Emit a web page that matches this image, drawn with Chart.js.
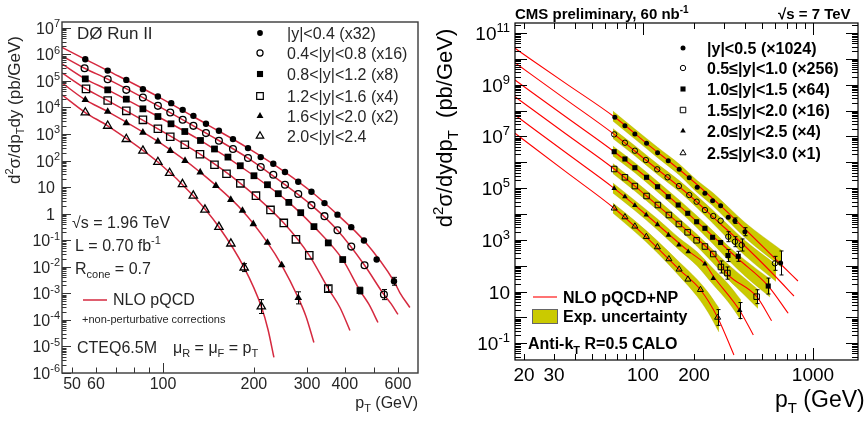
<!DOCTYPE html>
<html><head><meta charset="utf-8">
<script src="https://cdn.jsdelivr.net/npm/chart.js@4.4.1/dist/chart.umd.min.js"></script>
<style>
html,body{margin:0;padding:0;background:#fff;overflow:hidden}
#wrap{position:relative;width:864px;height:421px;overflow:hidden;background:#fff}
#c1{position:absolute;left:0;top:0}
#c2{position:absolute;left:430px;top:0}
</style></head>
<body><div id="wrap"><canvas id="c1" width="430" height="421"></canvas><canvas id="c2" width="434" height="421"></canvas></div>
<script>
// ================= LEFT PANEL: DØ Run II =================
const d0Legend = ['|y|<0.4 (x32)', '0.4<|y|<0.8 (x16)', '0.8<|y|<1.2 (x8)', '1.2<|y|<1.6 (x4)', '1.6<|y|<2.0 (x2)', '2.0<|y|<2.4'];
const d0YTickExps = [7, 6, 5, 4, 3, 2, 1, 0, -1, -2, -3, -4, -5, -6];
const d0XTickLabels = [50, 60, 100, 200, 300, 400, 600];

// measured points (pT in GeV, cross section in pb/GeV, scaled)
const d0Pt1 = [55.3, 65.6, 75.6, 85.8, 96.2, 106.5, 116.2, 126.1, 138.8, 153.2, 170.5, 191.2, 210.7, 231.9, 253.5, 280.5, 310.2, 342.6, 378.3, 420.2, 463, 510, 582];
const d0Xs1 = [6.5e5, 2.44e5, 1.09e5, 4.88e4, 2.57e4, 1.45e4, 8.1e3, 4.83e3, 2.42e3, 1.32e3, 643, 295, 135, 75.8, 37, 16, 6.7, 2.5, 0.92, 0.31, 0.097, 0.0187, 0.00285];
const d0Pt2 = [55.0, 65.6, 75.6, 85.8, 96.2, 105.7, 116.2, 126.1, 138.8, 153.2, 170.5, 191.2, 210.7, 231.9, 253.5, 280.5, 310.2, 342.6, 378.3, 420.2, 465, 539];
const d0Xs2 = [3.0e5, 1.16e5, 4.59e4, 2.36e4, 1.15e4, 6.43e3, 3.42e3, 2.03e3, 1.08e3, 555, 271, 124, 57, 29.3, 12.3, 5.5, 2.09, 0.805, 0.236, 0.0575, 0.0114, 9.0e-4];
const d0Pt3 = [55.3, 65.6, 75.6, 85.8, 96.2, 106.3, 118.1, 133.1, 148.1, 164.1, 180.3, 200.1, 221.8, 240.9, 261, 285.8, 316.2, 352.7, 393.7, 449];
const d0Xs3 = [1.19e5, 4.59e4, 2.05e4, 8.86e3, 4.55e3, 2.42e3, 1.24e3, 570, 273, 135, 63.8, 26.8, 12.3, 5.65, 2.66, 1.09, 0.325, 0.0792, 0.0187, 1.27e-3];
const d0Pt4 = [55.6, 65.6, 75.6, 85.8, 96.2, 105.7, 118.1, 132.6, 148.1, 162.3, 180.4, 203.2, 227, 251.2, 275.6, 305.1, 352.7];
const d0Xs4 = [5.0e4, 1.82e4, 7.45e3, 3.42e3, 1.57e3, 785, 393, 173, 69.5, 31.9, 13.9, 4.75, 1.38, 0.447, 0.108, 0.027, 1.51e-3];
const d0Pt5 = [55.3, 65.6, 75.6, 85.8, 96.2, 105.7, 118.3, 132.8, 149.7, 167.7, 183.3, 199.1, 221.8, 247.2, 280.5];
const d0Xs5 = [1.93e4, 7.01e3, 2.57e3, 1.14e3, 522, 234, 98.3, 36.3, 11.3, 3.36, 1.3, 0.41, 0.0813, 0.0116, 6.8e-4];
const d0Pt6 = [55.3, 65.6, 75.6, 85.8, 96.2, 105.2, 116, 126, 137.7, 153.2, 167.8, 185.7, 211.6];
const d0Xs6 = [6.43e3, 2.03e3, 643, 234, 87.9, 33.9, 12.9, 4.75, 1.41, 0.316, 0.0745, 9.3e-3, 3.19e-4];
// visible error bars (pT, low edge, high edge)
const d0ErrPt = [582, 539, 449, 352.7, 280.5, 185.7, 211.6];
const d0ErrLo = [2.02e-3, 5.8e-4, 9.5e-4, 1.15e-3, 4.0e-4, 6.6e-3, 1.74e-4];
const d0ErrHi = [4.0e-3, 1.39e-3, 1.7e-3, 1.95e-3, 1.14e-3, 1.31e-2, 5.8e-4];

// NLO pQCD curves (knots)
const d0NloPt1 = [46.3, 55.3, 65.6, 96.2, 138.8, 191.2, 253.5, 310.2, 378.3, 463, 582, 609, 657];
const d0NloXs1 = [1.82e6, 6.5e5, 2.44e5, 2.57e4, 2.42e3, 295, 37, 6.7, 0.92, 0.097, 2.85e-3, 1.05e-3, 2.92e-4];
const d0NloPt2 = [46.3, 55, 65.6, 96.2, 138.8, 191.2, 253.5, 310.2, 378.3, 465, 539, 569, 600];
const d0NloXs2 = [8.7e5, 3.0e5, 1.16e5, 1.15e4, 1.08e3, 124, 12.3, 2.09, 0.236, 0.0114, 9.0e-4, 4.1e-4, 1.6e-4];
const d0NloPt3 = [46.3, 55.3, 65.6, 96.2, 133.1, 200.1, 261, 316.2, 393.7, 449, 481, 515];
const d0NloXs3 = [4.36e5, 1.19e5, 4.59e4, 4.55e3, 570, 26.8, 2.66, 0.325, 0.0187, 1.27e-3, 3.8e-4, 8.0e-5];
const d0NloPt4 = [46.3, 55.6, 65.6, 96.2, 132.6, 180.4, 251.2, 305.1, 352.7, 385.5, 416];
const d0NloXs4 = [2.0e5, 5.0e4, 1.82e4, 1.57e3, 173, 13.9, 0.447, 0.027, 1.51e-3, 2.92e-4, 4.0e-5];
const d0NloPt5 = [46.3, 55.3, 65.6, 96.2, 132.8, 183.3, 221.8, 247.2, 280.5, 297.6, 316];
const d0NloXs5 = [8.4e4, 1.93e4, 7.01e3, 522, 36.3, 1.3, 0.0813, 0.0116, 6.8e-4, 1.34e-4, 1.41e-5];
const d0NloPt6 = [46.3, 55.3, 65.6, 96.2, 126, 153.2, 185.7, 211.6, 222.7, 233];
const d0NloXs6 = [2.98e4, 6.43e3, 2.03e3, 87.9, 4.75, 0.316, 9.3e-3, 3.19e-4, 4.36e-5, 3.86e-6];

// ================= RIGHT PANEL: CMS preliminary =================
const cmsLegend = ['|y|<0.5 (\u00d71024)', '0.5\u2264|y|<1.0 (\u00d7256)', '1.0\u2264|y|<1.5 (\u00d764)', '1.5\u2264|y|<2.0 (\u00d716)', '2.0\u2264|y|<2.5 (\u00d74)', '2.5\u2264|y|<3.0 (\u00d71)'];
const cmsYTickExps = [11, 9, 7, 5, 3, 1, -1];
const cmsXTickLabels = [20, 30, 100, 200, 1000];

const cmsPt1 = [68.4, 78.4, 89.7, 105.1, 122, 140.9, 163.5, 187.3, 208.6, 231.6, 257, 286.5, 317.6, 347.7, 398, 645.7];
const cmsXs1 = [5.48e7, 2.59e7, 1.24e7, 5.41e6, 2.34e6, 1.15e6, 5.33e5, 2.52e5, 1.07e5, 6.3e4, 3.26e4, 2.09e4, 7.4e3, 5.48e3, 2.06e3, 127];
const cmsPt2 = [67.8, 78.4, 89.7, 104.1, 121.4, 139.7, 162.8, 187.3, 207, 231.6, 259.2, 286.5, 317.6, 347.7, 380.7, 597.6];
const cmsXs2 = [1.2e7, 5.7e6, 2.8e6, 1.22e6, 5.33e5, 2.62e5, 1.2e5, 5.4e4, 2.98e4, 1.42e4, 8.3e3, 5.48e3, 1.32e3, 845, 630, 123];
const cmsPt3 = [67.8, 78.4, 89.7, 105.1, 122, 140.9, 161.3, 183.5, 207, 231.6, 257, 286.5, 316.4, 363.6, 545.8];
const cmsXs3 = [2.56e6, 1.34e6, 6.15e5, 2.62e5, 1.13e5, 4.65e4, 2.22e4, 1.06e4, 5.0e3, 2.79e3, 1.25e3, 787, 247, 230, 16.3];
const cmsPt4 = [67.8, 78.4, 89.7, 105.1, 122.5, 142.2, 162.8, 183.2, 207, 231.6, 259.2, 287.6, 314, 466.6];
const cmsXs4 = [5.48e5, 2.62e5, 1.2e5, 4.95e4, 2.22e4, 9.1e3, 4.08e3, 1.95e3, 957, 551, 282, 88.7, 52, 6.3];
const cmsPt5 = [67.8, 78.4, 89.7, 104.6, 121.7, 141.3, 162.8, 184.7, 231.6, 259.2, 370.6];
const cmsXs5 = [9.8e4, 4.65e4, 2.12e4, 9.1e3, 3.9e3, 1.53e3, 630, 347, 116, 31.8, 1.84];
const cmsPt6 = [67.8, 78.4, 89.7, 104.8, 121.7, 142.2, 163.3, 184, 217.9, 275.1];
const cmsXs6 = [1.66e4, 7.6e3, 3.33e3, 1.32e3, 526, 181, 72.3, 29.6, 11.7, 0.99];
// visible error bars (pT, low edge, high edge)
const cmsErrPt = [645.7, 398, 347.7, 597.6, 380.7, 347.7, 317.6, 545.8, 363.6, 316.4, 466.6, 314, 287.6, 370.6, 275.1];
const cmsErrLo = [43.6, 1.44e3, 4.3e3, 66, 368, 542, 846, 8.0, 147, 144, 3.4, 30, 52, 0.9, 0.49];
const cmsErrHi = [370, 2.94e3, 7.0e3, 229, 1.08e3, 1.32e3, 2.06e3, 33, 359, 422, 11.7, 89, 152, 3.75, 2.0];

// NLO pQCD+NP lines
const cmsNloPt1 = [17.7, 35, 68.4, 105, 187, 286, 398, 645, 816];
const cmsNloXs1 = [2.56e10, 1.15e9, 5.48e7, 5.41e6, 2.52e5, 2.09e4, 2.62e3, 116, 25.5];
const cmsNloPt2 = [17.7, 35, 67.8, 104, 187, 286, 381, 598, 773];
const cmsNloXs2 = [7.1e9, 2.77e8, 1.2e7, 1.22e6, 5.4e4, 4.08e3, 751, 39.8, 6.7];
const cmsNloPt3 = [17.7, 35, 67.8, 105, 183.5, 286, 364, 546, 715];
const cmsNloXs3 = [1.52e9, 5.89e7, 2.56e6, 2.62e5, 1.06e4, 751, 181, 16.3, 1.44];
const cmsNloPt4 = [17.7, 35, 67.8, 105, 187, 259, 314, 467, 571];
const cmsNloXs4 = [3.43e8, 1.29e7, 5.48e5, 4.95e4, 1.95e3, 282, 47.5, 6.3, 0.743];
const cmsNloPt5 = [17.7, 35, 67.8, 105, 187, 232, 259, 371, 446];
const cmsNloXs5 = [6.73e7, 2.43e6, 9.8e4, 9.1e3, 347, 116, 39.8, 1.84, 0.207];
const cmsNloPt6 = [17.7, 35, 67.8, 104, 163, 218, 275, 343];
const cmsNloXs6 = [1.32e7, 4.43e5, 1.66e4, 1.32e3, 72.3, 11.7, 0.99, 0.035];

// experimental uncertainty bands (upper / lower edges)
const cmsBandPt1 = [66.6, 89.7, 122, 163.5, 208.6, 257, 317.6, 398, 657];
const cmsBandHi1 = [9.6e7, 1.93e7, 3.79e6, 8.55e5, 1.97e5, 6.76e4, 1.86e4, 4.68e3, 385];
const cmsBandLo1 = [3.94e7, 7.93e6, 1.5e6, 3.21e5, 6.76e4, 2.12e4, 5.34e3, 1.23e3, 84.9];
const cmsBandPt2 = [66.6, 89.7, 122, 163.5, 208.6, 257, 317.6, 398, 606];
const cmsBandHi2 = [2.02e7, 4.37e6, 8.48e5, 1.97e5, 4.95e4, 1.42e4, 3.74e3, 939, 111];
const cmsBandLo2 = [8.3e6, 1.79e6, 3.36e5, 7.38e4, 1.7e4, 4.47e3, 1.07e3, 247, 24.4];
const cmsBandPt3 = [66.6, 89.7, 122, 163.5, 208.6, 257, 317.6, 398, 558];
const cmsBandHi3 = [4.26e6, 9.6e5, 1.8e5, 3.47e4, 8.34e3, 2.29e3, 577, 166, 30.5];
const cmsBandLo3 = [1.75e6, 3.94e5, 7.13e4, 1.3e4, 2.86e3, 719, 166, 39.8, 6.13];
const cmsBandPt4 = [66.6, 89.7, 122, 163.5, 208.6, 257, 317.6, 398, 475];
const cmsBandHi4 = [8.95e5, 1.88e5, 3.53e4, 6.67e3, 1.6e3, 422, 111, 31.8, 12];
const cmsBandLo4 = [3.67e5, 7.73e4, 1.4e4, 2.5e3, 551, 132, 29.2, 7.0, 2.2];
const cmsBandPt5 = [66.6, 89.7, 122, 163.5, 208.6, 257, 317.6, 377];
const cmsBandHi5 = [1.58e5, 3.32e4, 6.38e3, 1.17e3, 337, 81, 19.5, 4.7];
const cmsBandLo5 = [6.47e4, 1.36e4, 2.4e3, 403, 97, 19.5, 3.93, 0.79];
const cmsBandPt6 = [66.6, 89.7, 122, 163.5, 208.6, 241, 280];
const cmsBandHi6 = [2.65e4, 5.43e3, 899, 139, 29.2, 9.57, 2.3];
const cmsBandLo6 = [1.09e4, 2.04e3, 309, 39.8, 6.41, 1.61, 0.272];

// ================= helpers =================
const FAM = '"Liberation Sans", Arial, Helvetica, sans-serif';
const fnt = (sz, b) => (b ? 'bold ' : '') + sz + 'px ' + FAM;
const seg = (t, sz, o = {}) => ({ t, f: fnt(sz, o.b), dy: o.dy || 0 });
function drawRich(ctx, x, y, segs, align) {
  let w = 0;
  for (const s of segs) { ctx.font = s.f; w += ctx.measureText(s.t).width; }
  let cx = align === 'right' ? x - w : align === 'center' ? x - w / 2 : x;
  ctx.textAlign = 'left'; ctx.textBaseline = 'alphabetic';
  for (const s of segs) { ctx.font = s.f; ctx.fillText(s.t, cx, y + s.dy); cx += ctx.measureText(s.t).width; }
  return w;
}
function powSegs(e, sz, ssz, b) {
  if (e === 0) return [seg('1', sz, { b })];
  if (e === 1) return [seg('10', sz, { b })];
  return [seg('10', sz, { b }), seg(String(e), ssz, { b, dy: -sz * 0.42 })];
}
function logTicks(min, max) {
  const out = [];
  for (let d = Math.floor(Math.log10(min)) - 1; d <= Math.ceil(Math.log10(max)); d++)
    for (let m = 1; m <= 9; m++) {
      const v = m * Math.pow(10, d);
      if (v >= min * 0.9999 && v <= max * 1.0001) out.push({ v, major: m === 1 });
    }
  return out;
}
function marker(ctx, style, x, y, r, filled, lw) {
  ctx.beginPath();
  if (style === 'circle') ctx.arc(x, y, r, 0, Math.PI * 2);
  else if (style === 'rect') { const s = r / Math.SQRT2; ctx.rect(x - s, y - s, 2 * s, 2 * s); }
  else {
    ctx.moveTo(x, y - r);
    ctx.lineTo(x + r * Math.sin(2 * Math.PI / 3), y - r * Math.cos(2 * Math.PI / 3));
    ctx.lineTo(x + r * Math.sin(4 * Math.PI / 3), y - r * Math.cos(4 * Math.PI / 3));
    ctx.closePath();
  }
  if (filled) { ctx.fillStyle = '#000'; ctx.fill(); }
  else { ctx.lineWidth = lw; ctx.strokeStyle = '#000'; ctx.stroke(); }
}
function errorBars(ctx, xs, ys, pt, lo, hi, cap, color, lw) {
  ctx.save(); ctx.strokeStyle = color; ctx.lineWidth = lw;
  for (let i = 0; i < pt.length; i++) {
    const x = Math.round(xs.getPixelForValue(pt[i])) + 0.5;
    const y1 = ys.getPixelForValue(lo[i]), y2 = ys.getPixelForValue(hi[i]);
    ctx.beginPath(); ctx.moveTo(x, y1); ctx.lineTo(x, y2);
    ctx.moveTo(x - cap, y1); ctx.lineTo(x + cap, y1);
    ctx.moveTo(x - cap, y2); ctx.lineTo(x + cap, y2); ctx.stroke();
  }
  ctx.restore();
}
const pts = (px, vy) => px.map((p, i) => ({ x: p, y: vy[i] }));
const hiddenAxis = (min, max) => ({
  type: 'logarithmic', min, max, bounds: 'data', display: true,
  ticks: { display: false }, grid: { display: false, drawTicks: false },
  border: { display: false }, title: { display: false }
});

// ================= D0 chart =================
const styles = ['circle', 'circle', 'rect', 'rect', 'triangle', 'triangle'];
const filledArr = [true, false, true, false, true, false];
const d0Rad = [3.2, 3.4, 4.8, 5.2, 4.4, 4.8];
const d0DataPt = [d0Pt1, d0Pt2, d0Pt3, d0Pt4, d0Pt5, d0Pt6];
const d0DataXs = [d0Xs1, d0Xs2, d0Xs3, d0Xs4, d0Xs5, d0Xs6];
const d0CurvPt = [d0NloPt1, d0NloPt2, d0NloPt3, d0NloPt4, d0NloPt5, d0NloPt6];
const d0CurvXs = [d0NloXs1, d0NloXs2, d0NloXs3, d0NloXs4, d0NloXs5, d0NloXs6];
const D0RED = '#d5293f';
const d0Sets = [];
for (let i = 0; i < 6; i++) {
  d0Sets.push({
    label: d0Legend[i], data: pts(d0DataPt[i], d0DataXs[i]), showLine: false, order: 1,
    pointStyle: styles[i], pointRadius: d0Rad[i], pointHoverRadius: d0Rad[i],
    pointBackgroundColor: filledArr[i] ? '#000' : 'rgba(255,255,255,0)', pointBorderColor: '#000',
    pointBorderWidth: filledArr[i] ? 0 : 1.3
  });
}
for (let i = 0; i < 6; i++) {
  d0Sets.push({
    label: 'NLO pQCD ' + (i + 1), data: pts(d0CurvPt[i], d0CurvXs[i]), showLine: true, order: 2,
    borderColor: D0RED, borderWidth: 1.5, pointRadius: 0, fill: false, cubicInterpolationMode: 'monotone'
  });
}
const d0Deco = {
  id: 'd0Deco',
  afterDatasetsDraw(chart) {
    errorBars(chart.ctx, chart.scales.x, chart.scales.y, d0ErrPt, d0ErrLo, d0ErrHi, 2.5, '#000', 1);
  },
  afterDraw(chart) {
    const ctx = chart.ctx, a = chart.chartArea, xs = chart.scales.x, ys = chart.scales.y;
    const ink = '#262626';
    ctx.save();
    ctx.strokeStyle = '#333'; ctx.lineWidth = 1;
    for (const t of logTicks(ys.min, ys.max)) {
      const py = Math.round(ys.getPixelForValue(t.v)) + 0.5;
      ctx.beginPath(); ctx.moveTo(a.left, py); ctx.lineTo(a.left + (t.major ? 9 : 4.5), py); ctx.stroke();
    }
    for (const t of logTicks(xs.min, xs.max)) {
      const px = Math.round(xs.getPixelForValue(t.v)) + 0.5;
      ctx.beginPath(); ctx.moveTo(px, a.bottom); ctx.lineTo(px, a.bottom - (t.major ? 10 : 5.5)); ctx.stroke();
    }
    ctx.lineWidth = 1.4; ctx.strokeStyle = '#3a3a3a';
    ctx.strokeRect(a.left, a.top, a.right - a.left, a.bottom - a.top);
    ctx.fillStyle = ink;
    for (const e of d0YTickExps) {
      const py = ys.getPixelForValue(Math.pow(10, e));
      const right = (e === 0 || e === 1) ? a.left - 7 : a.left - 2;
      drawRich(ctx, right, py + 6, powSegs(e, 16, 11), 'right');
    }
    for (const v of d0XTickLabels) drawRich(ctx, xs.getPixelForValue(v), 389, [seg(String(v), 16)], 'center');
    drawRich(ctx, a.right, 408, [seg('p', 16), seg('T', 11, { dy: 4 }), seg(' (GeV)', 16)], 'right');
    // y title
    ctx.save(); ctx.translate(20, 110); ctx.rotate(-Math.PI / 2);
    drawRich(ctx, 0, 0, [seg('d', 17), seg('2', 11, { dy: -7 }), seg('\u03c3/dp', 17), seg('T', 11, { dy: 4 }), seg('dy (pb/GeV)', 17)], 'center');
    ctx.restore();
    drawRich(ctx, 77, 39, [seg('D\u00d8 Run II', 17)], 'left');
    // legend
    const rows = [33, 53, 74, 96, 116, 136];
    for (let i = 0; i < 6; i++) {
      marker(ctx, styles[i], 260, rows[i], d0Rad[i] * 0.9, filledArr[i], 1.2);
      ctx.fillStyle = ink;
      drawRich(ctx, 287, rows[i] + 6, [seg(d0Legend[i], 16)], 'left');
    }
    drawRich(ctx, 72, 228, [seg('\u221as = 1.96 TeV', 16)], 'left');
    drawRich(ctx, 75, 251, [seg('L = 0.70 fb', 16), seg('-1', 11, { dy: -7 })], 'left');
    drawRich(ctx, 75, 274, [seg('R', 16), seg('cone', 11, { dy: 4 }), seg(' = 0.7', 16)], 'left');
    ctx.strokeStyle = D0RED; ctx.lineWidth = 1.5;
    ctx.beginPath(); ctx.moveTo(83, 300); ctx.lineTo(107, 300); ctx.stroke();
    drawRich(ctx, 113, 305, [seg('NLO pQCD', 16)], 'left');
    drawRich(ctx, 82, 323, [seg('+non-perturbative corrections', 11)], 'left');
    drawRich(ctx, 77, 353, [seg('CTEQ6.5M', 16)], 'left');
    drawRich(ctx, 173, 353, [seg('\u03bc', 16), seg('R', 11, { dy: 4 }), seg(' = \u03bc', 16), seg('F', 11, { dy: 4 }), seg(' = p', 16), seg('T', 11, { dy: 4 })], 'left');
    ctx.restore();
  }
};
new Chart(document.getElementById('c1'), {
  type: 'scatter',
  data: { datasets: d0Sets },
  options: {
    responsive: false, animation: false, devicePixelRatio: 1,
    layout: { padding: { left: 62, top: 22, right: 12, bottom: 48 } },
    plugins: { legend: { display: false }, tooltip: { enabled: false } },
    scales: { x: hiddenAxis(46.3, 699), y: hiddenAxis(1e-6, 1.65e7) }
  },
  plugins: [d0Deco]
});

// ================= CMS chart =================
const cmsRad = [2.5, 2.7, 3.6, 3.9, 3.2, 3.5];
const cmsDataPt = [cmsPt1, cmsPt2, cmsPt3, cmsPt4, cmsPt5, cmsPt6];
const cmsDataXs = [cmsXs1, cmsXs2, cmsXs3, cmsXs4, cmsXs5, cmsXs6];
const cmsLinePt = [cmsNloPt1, cmsNloPt2, cmsNloPt3, cmsNloPt4, cmsNloPt5, cmsNloPt6];
const cmsLineXs = [cmsNloXs1, cmsNloXs2, cmsNloXs3, cmsNloXs4, cmsNloXs5, cmsNloXs6];
const cmsBPt = [cmsBandPt1, cmsBandPt2, cmsBandPt3, cmsBandPt4, cmsBandPt5, cmsBandPt6];
const cmsBHi = [cmsBandHi1, cmsBandHi2, cmsBandHi3, cmsBandHi4, cmsBandHi5, cmsBandHi6];
const cmsBLo = [cmsBandLo1, cmsBandLo2, cmsBandLo3, cmsBandLo4, cmsBandLo5, cmsBandLo6];
const BAND = '#caca00', BANDEDGE = 'rgba(165,165,0,0.7)';
const cmsSets = [];
for (let i = 0; i < 6; i++) {
  cmsSets.push({
    label: 'band hi ' + i, data: pts(cmsBPt[i], cmsBHi[i]), showLine: true, order: 3,
    borderColor: BANDEDGE, borderWidth: 0.5, pointRadius: 0, fill: false, cubicInterpolationMode: 'monotone'
  });
  cmsSets.push({
    label: 'band lo ' + i, data: pts(cmsBPt[i], cmsBLo[i]), showLine: true, order: 3,
    borderColor: BANDEDGE, borderWidth: 0.5, pointRadius: 0, fill: '-1', backgroundColor: BAND,
    cubicInterpolationMode: 'monotone'
  });
}
for (let i = 0; i < 6; i++) {
  cmsSets.push({
    label: 'NLO ' + i, data: pts(cmsLinePt[i], cmsLineXs[i]), showLine: true, order: 2,
    borderColor: '#ff0000', borderWidth: 1.1, pointRadius: 0, fill: false, cubicInterpolationMode: 'monotone'
  });
}
for (let i = 0; i < 6; i++) {
  cmsSets.push({
    label: cmsLegend[i], data: pts(cmsDataPt[i], cmsDataXs[i]), showLine: false, order: 1,
    pointStyle: styles[i], pointRadius: cmsRad[i], pointHoverRadius: cmsRad[i],
    pointBackgroundColor: filledArr[i] ? '#000' : 'rgba(255,255,255,0)', pointBorderColor: '#000',
    pointBorderWidth: filledArr[i] ? 0 : 1
  });
}
const cmsDeco = {
  id: 'cmsDeco',
  afterDatasetsDraw(chart) {
    errorBars(chart.ctx, chart.scales.x, chart.scales.y, cmsErrPt, cmsErrLo, cmsErrHi, 2, '#000', 1);
  },
  afterDraw(chart) {
    const ctx = chart.ctx, a = chart.chartArea, xs = chart.scales.x, ys = chart.scales.y;
    ctx.save();
    ctx.strokeStyle = '#000'; ctx.lineWidth = 1;
    for (const t of logTicks(ys.min, ys.max)) {
      const py = Math.round(ys.getPixelForValue(t.v)) + 0.5, L = t.major ? 12 : 6;
      ctx.beginPath(); ctx.moveTo(a.left, py); ctx.lineTo(a.left + L, py);
      ctx.moveTo(a.right, py); ctx.lineTo(a.right - L, py); ctx.stroke();
    }
    for (const t of logTicks(xs.min, xs.max)) {
      const px = Math.round(xs.getPixelForValue(t.v)) + 0.5, L = t.major ? 12 : 6;
      ctx.beginPath(); ctx.moveTo(px, a.bottom); ctx.lineTo(px, a.bottom - L);
      ctx.moveTo(px, a.top); ctx.lineTo(px, a.top + L); ctx.stroke();
    }
    ctx.lineWidth = 1.2;
    ctx.strokeRect(a.left, a.top, a.right - a.left, a.bottom - a.top);
    ctx.fillStyle = '#000';
    for (const e of cmsYTickExps) {
      const py = ys.getPixelForValue(Math.pow(10, e));
      drawRich(ctx, a.left - 5, py + 7, powSegs(e, 19, 13), 'right');
    }
    for (const v of cmsXTickLabels) drawRich(ctx, xs.getPixelForValue(v), 381, [seg(String(v), 19)], 'center');
    drawRich(ctx, 345, 407, [seg('p', 23), seg('T', 15, { dy: 6 }), seg(' (GeV)', 23)], 'left');
    ctx.save(); ctx.translate(22, 128); ctx.rotate(-Math.PI / 2);
    drawRich(ctx, 0, 0, [seg('d', 22), seg('2', 15, { dy: -9 }), seg('\u03c3/dydp', 22), seg('T', 15, { dy: 6 }), seg('  (pb/GeV)', 22)], 'center');
    ctx.restore();
    drawRich(ctx, 85, 19, [seg('CMS preliminary, 60 nb', 15, { b: true }), seg('-1', 10, { b: true, dy: -6 })], 'left');
    drawRich(ctx, 348, 19, [seg('\u221as = 7 TeV', 15, { b: true })], 'left');
    const rows = [48, 68, 89, 110, 131, 153];
    for (let i = 0; i < 6; i++) {
      marker(ctx, styles[i], 253, rows[i], cmsRad[i], filledArr[i], 1);
      ctx.fillStyle = '#000';
      drawRich(ctx, 277, rows[i] + 6, [seg(cmsLegend[i], 16, { b: true })], 'left');
    }
    ctx.strokeStyle = '#ff0000'; ctx.lineWidth = 1.1;
    ctx.beginPath(); ctx.moveTo(103, 297); ctx.lineTo(127, 297); ctx.stroke();
    ctx.fillStyle = '#000';
    drawRich(ctx, 133, 303, [seg('NLO pQCD+NP', 16, { b: true })], 'left');
    ctx.fillStyle = BAND; ctx.fillRect(102, 309, 26, 15);
    ctx.strokeStyle = '#666'; ctx.lineWidth = 1; ctx.strokeRect(102.5, 309.5, 25, 14);
    ctx.fillStyle = '#000';
    drawRich(ctx, 133, 322, [seg('Exp. uncertainty', 16, { b: true })], 'left');
    drawRich(ctx, 98, 349, [seg('Anti-k', 16, { b: true }), seg('T', 11, { b: true, dy: 5 }), seg(' R=0.5 CALO', 16, { b: true })], 'left');
    ctx.restore();
  }
};
new Chart(document.getElementById('c2'), {
  type: 'scatter',
  data: { datasets: cmsSets },
  options: {
    responsive: false, animation: false, devicePixelRatio: 1,
    layout: { padding: { left: 85, top: 23, right: 6, bottom: 61 } },
    plugins: { legend: { display: false }, tooltip: { enabled: false } },
    scales: { x: hiddenAxis(17.7, 1840), y: hiddenAxis(0.0224, 2.44e11) }
  },
  plugins: [cmsDeco]
});
</script>
</body></html>
